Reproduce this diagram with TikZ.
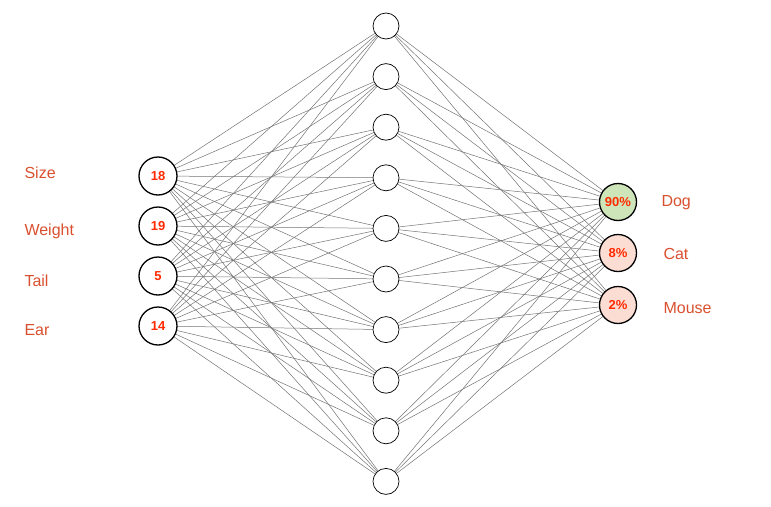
\documentclass[tikz,border=0pt]{standalone}
\usepackage{fontspec}
\setmainfont{Liberation Sans}
\definecolor{lab}{HTML}{D9502F}
\definecolor{num}{HTML}{FF2A00}
\definecolor{gfill}{HTML}{CDE5B9}
\definecolor{rfill}{HTML}{FCDDD3}
\begin{document}
\begin{tikzpicture}[x=1pt,y=-1pt,
  inp/.style={circle,draw,line width=1.3pt,minimum size=38pt,inner sep=0pt,fill=white,font=\bfseries\fontsize{13}{13}\selectfont,text=num},
  hid/.style={circle,draw,line width=0.7pt,minimum size=26pt,inner sep=0pt,fill=white},
  outn/.style={circle,draw,line width=1.3pt,minimum size=37pt,inner sep=0pt,font=\bfseries\fontsize{13}{13}\selectfont,text=num},
  lbl/.style={text=lab,font=\fontsize{16}{16}\selectfont,anchor=west},
  edge/.style={draw=black!55,line width=0.5pt}]
\useasboundingbox (0,0) rectangle (771,506);
\foreach \y [count=\i] in {176,226,276,326}
  \coordinate (i\i) at (158,\y);
\foreach \i in {1,...,10}
  \coordinate (h\i) at (386,{26+50.6*(\i-1)});
\coordinate (o1) at (618,202);
\coordinate (o2) at (618,253);
\coordinate (o3) at (618,305);
\foreach \a in {1,...,4}\foreach \b in {1,...,10}
  \draw[edge] (i\a) -- (h\b);
\foreach \b in {1,...,10}\foreach \c in {1,2,3}
  \draw[edge] (h\b) -- (o\c);
\foreach \t [count=\i] in {18,19,5,14}
  \node[inp] (n\i) at (i\i) {\t};
\foreach \i in {1,...,10} \node[hid] (m\i) at (h\i) {};
\node[outn,fill=gfill] (p1) at (o1) {90\%};
\node[outn,fill=rfill] (p2) at (o2) {8\%};
\node[outn,fill=rfill] (p3) at (o3) {2\%};
\node[lbl] (l1) at (21,173) {Size};
\node[lbl] (l2) at (21,231) {Weight};
\node[lbl] (l3) at (21,281) {Tail};
\node[lbl] (l4) at (21,330) {Ear};
\node[lbl] (r1) at (658,203) {Dog};
\node[lbl] (r2) at (660,254) {Cat};
\node[lbl] (r3) at (660,308) {Mouse};
\end{tikzpicture}
\end{document}
